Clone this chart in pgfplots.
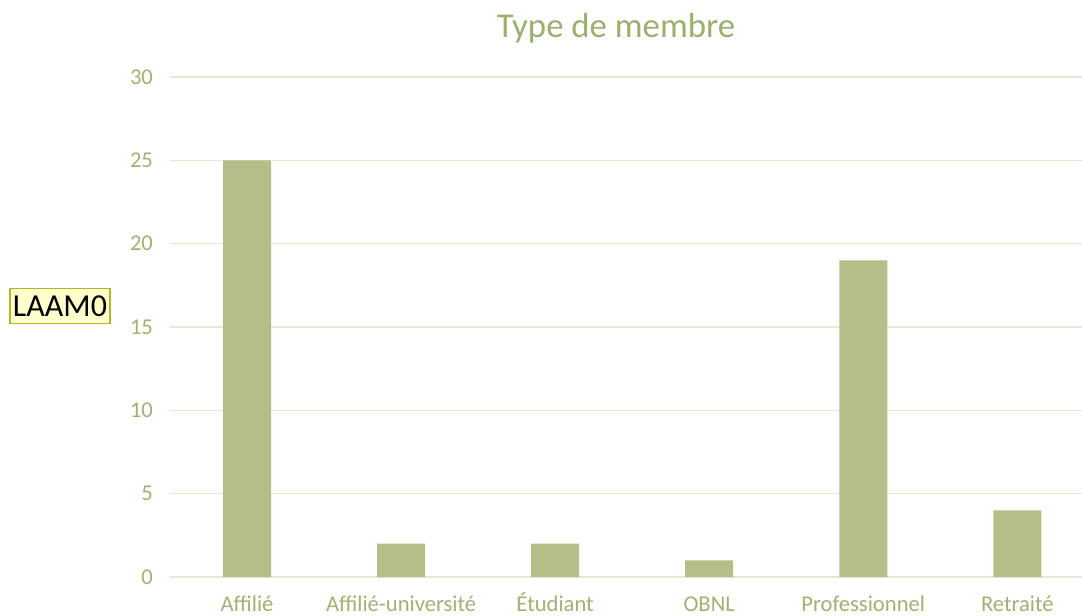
\documentclass[border=0pt]{standalone}
\usepackage{pgfplots}
\pgfplotsset{compat=1.18}
\usepackage{fontspec}
\setmainfont{Carlito}
\definecolor{barc}{HTML}{B4BE89}
\definecolor{tickc}{HTML}{A2B076}
\definecolor{titlec}{HTML}{9BAF6E}
\definecolor{gridc}{HTML}{E4E9D6}
\definecolor{boxfill}{HTML}{FFFFCC}
\definecolor{boxdraw}{HTML}{B5B52A}
\begin{document}
\begin{tikzpicture}
\begin{axis}[
  scale only axis=true,
  width=456pt, height=250pt,
  ymin=0, ymax=30,
  ytick={0,5,...,30},
  xmin=-0.5, xmax=5.42,
  xtick=data,
  xticklabels={Affilié, Affilié-université, Étudiant, OBNL, Professionnel, Retraité},
  axis line style={draw=none},
  tick style={draw=none},
  ymajorgrids=true,
  major grid style={gridc, line width=0.7pt},
  /pgf/number format/assume math mode=true,
  ticklabel style={font=\fontsize{11.3}{13}\selectfont, text=tickc},
  yticklabel style={xshift=-5pt},
  xticklabel style={anchor=base, yshift=-17pt},
  clip=false,
]
\addplot[ybar, bar width=24pt, fill=barc, draw=none] coordinates {
  (0,25) (1,2) (2,2) (3,1) (4,19) (5,4)
};
\node[text=titlec, font=\fontsize{17.4}{20}\selectfont] at (rel axis cs:0.489,1.098) {Type de membre};
\node[draw=boxdraw, fill=boxfill, line width=0.6pt, inner xsep=1.5pt, inner ysep=3.5pt, font=\fontsize{16}{18}\selectfont, text=black] at (rel axis cs:-0.1206,0.542) {LAAM0};
\coordinate (bbl) at (rel axis cs:-0.18640,-0.076);
\coordinate (btr) at (rel axis cs:1,1.154);
\end{axis}
\pgfresetboundingbox
\path[use as bounding box] (bbl) rectangle (btr);
\end{tikzpicture}
\end{document}
